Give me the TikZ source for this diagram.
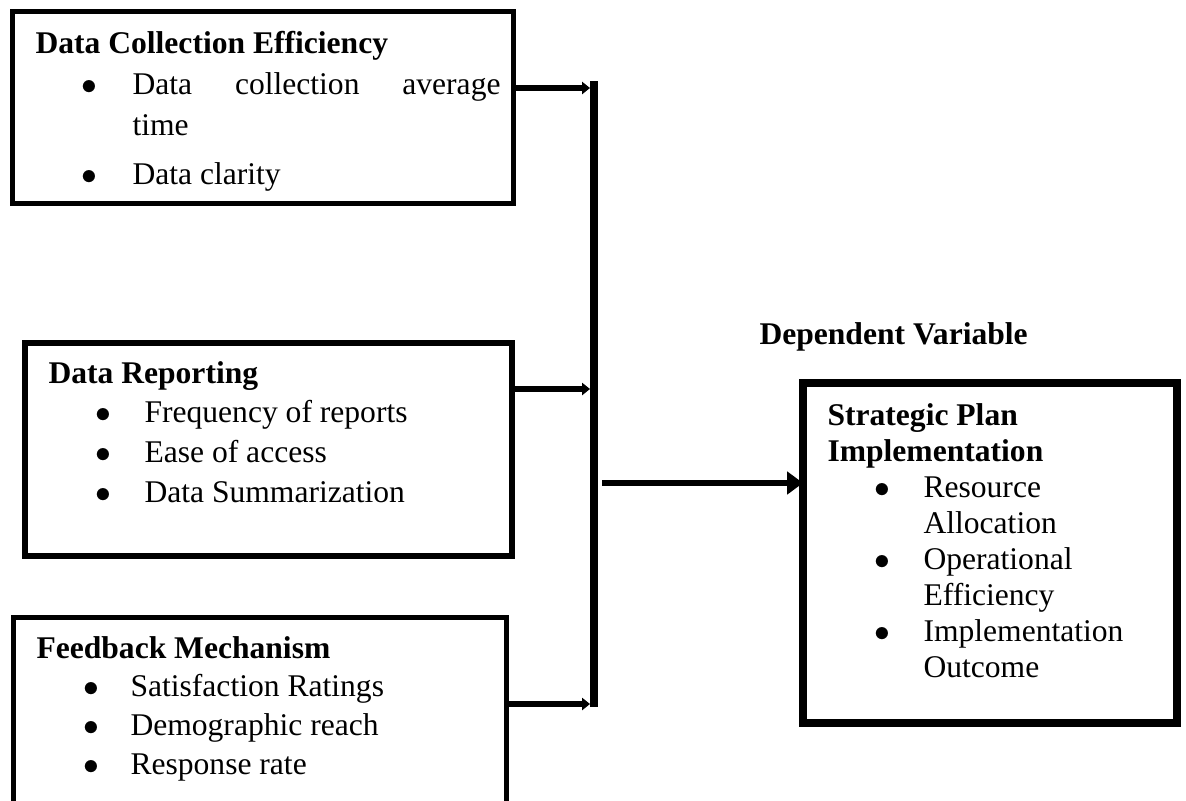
\documentclass[tikz,border=0pt]{standalone}
\usepackage{fontspec}
\setmainfont{Liberation Serif}
\usetikzlibrary{arrows.meta,positioning}

\newlength\pu
\setlength\pu{0.38pt}
% bullet list: left margin, label distance (both in px), item gap
\newcommand\dotmark{\makebox[0pt]{\fontsize{13}{13}\selectfont$\bullet$}}
\newenvironment{blist}[3]{%
  \begin{list}{\dotmark}{%
    \setlength\leftmargin{#1\pu}\setlength\labelsep{#2\pu}%
    \setlength\labelwidth{0pt}\setlength\itemindent{0pt}%
    \setlength\itemsep{#3}\setlength\parsep{0pt}%
    \setlength\topsep{0pt}\setlength\partopsep{0pt}}}%
  {\end{list}}

\begin{document}
\begin{tikzpicture}[x=0.38pt, y=-0.38pt, line join=miter,
    panel/.style={draw, line width=1.9pt, inner sep=0pt, outer sep=0pt, anchor=north west},
    txt/.style={inner sep=0pt, anchor=base west},
    feed/.style={line width=2.5pt, -{Triangle[length=3pt,width=4.6pt]}},
    result/.style={line width=2.5pt, -{Triangle[length=6pt,width=8.4pt]}}]
  \useasboundingbox (0,0) rectangle (1186,800);
  \clip (0,0) rectangle (1186,800);

  % Boxes
  \node[panel, minimum width=501\pu, minimum height=192\pu] (dce) at (12.5,11) {};
  \node[panel, minimum width=487\pu, minimum height=213\pu, line width=2.2pt] (drep) at (25,343) {};
  \node[panel, minimum width=493\pu, minimum height=230\pu] (fbm) at (13,617) {};
  \node[panel, minimum width=374\pu, minimum height=340\pu, line width=3pt] (spi) at (803,383) {};

  % Texts
  \node[txt] (dcetext) at (35,53) {\begin{minipage}[t]{465\pu}\fontsize{12}{15.6}\selectfont\noindent
    \textbf{Data Collection Efficiency}
    \begin{blist}{97}{43}{3pt}
      \item Data collection average\linebreak time
      \item Data clarity
    \end{blist}\end{minipage}};
  \node[txt] (dreptext) at (48,383) {\begin{minipage}[t]{440\pu}\fontsize{12}{15.1}\selectfont\noindent
    \textbf{Data Reporting}
    \begin{blist}{96}{41}{0pt}
      \item Frequency of reports
      \item Ease of access
      \item Data Summarization
    \end{blist}\end{minipage}};
  \node[txt] (fbmtext) at (36,658) {\begin{minipage}[t]{440\pu}\fontsize{12}{14.8}\selectfont\noindent
    \textbf{Feedback Mechanism}
    \begin{blist}{94}{39}{0pt}
      \item Satisfaction Ratings
      \item Demographic reach
      \item Response rate
    \end{blist}\end{minipage}};
  \node[txt] (spitext) at (827,425) {\begin{minipage}[t]{330\pu}\fontsize{12}{13.7}\selectfont\raggedright\noindent
    \textbf{Strategic Plan\newline Implementation}
    \begin{blist}{96}{41}{0pt}
      \item Resource\newline Allocation
      \item Operational\newline Efficiency
      \item Implementation\newline Outcome
    \end{blist}\end{minipage}};
  \node[txt, font=\fontsize{12}{14}\selectfont\bfseries] (depvar) at (759,344) {Dependent Variable};

  % Collecting bar and arrows
  \coordinate (bartop) at (594,81);
  \coordinate (barbot) at (594,707);
  \draw[line width=3pt] (bartop) -- (barbot);
  \coordinate (j1) at (590,88);
  \coordinate (j2) at (590,389);
  \coordinate (j3) at (590,704);
  \draw[feed] (dce.east |- j1) -- (j1);
  \draw[feed] (drep.east |- j2) -- (j2);
  \draw[feed] (fbm.east |- j3) -- (j3);
  \coordinate (jout) at (602,483);
  \draw[result] (jout) -- (spi.west |- jout);
\end{tikzpicture}
\end{document}
